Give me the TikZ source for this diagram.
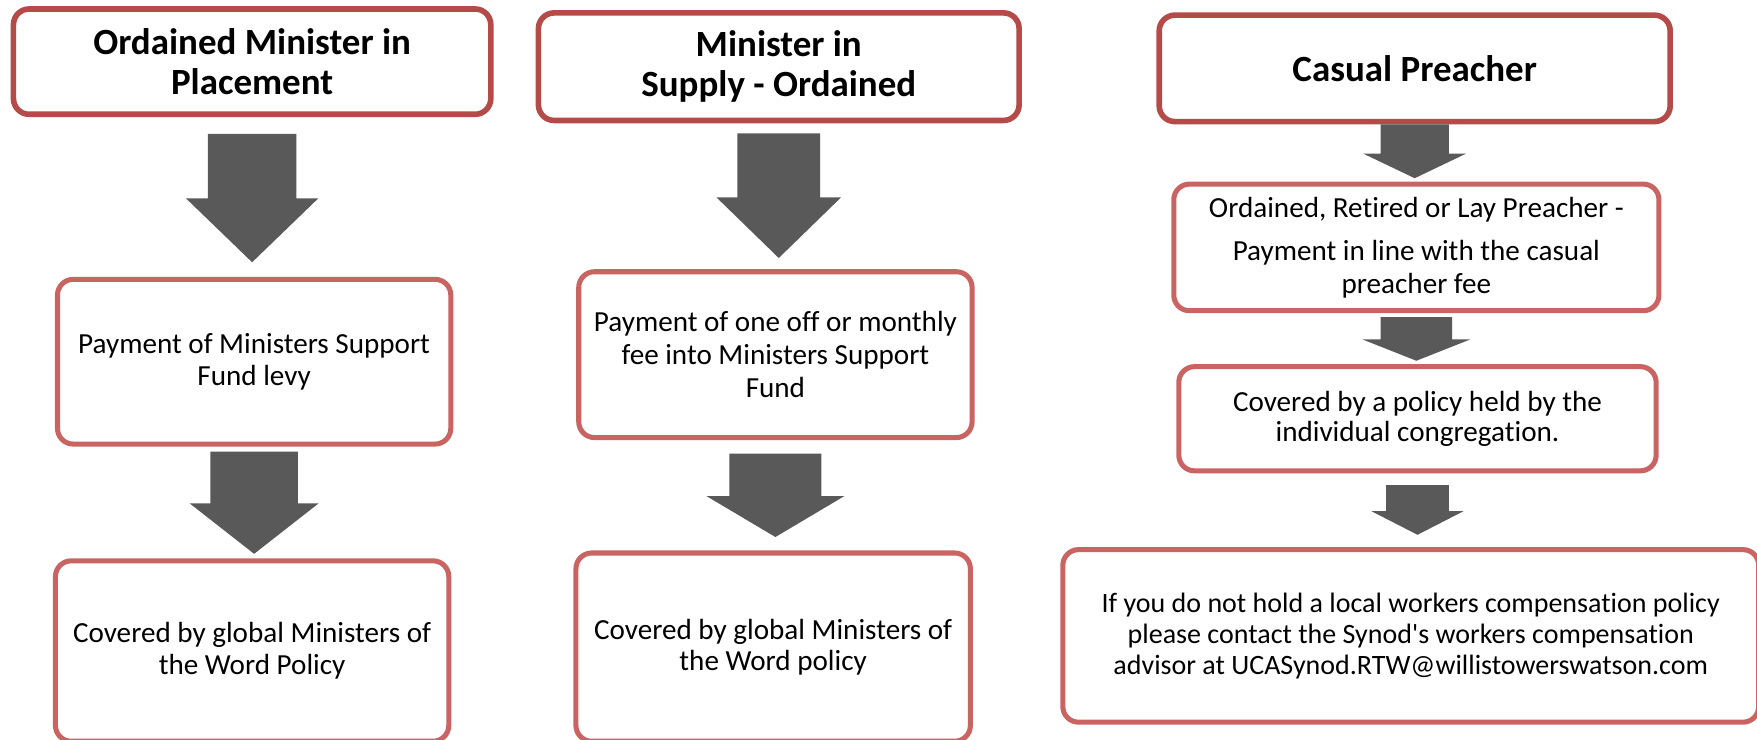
\documentclass[tikz,border=0pt]{standalone}
\usepackage{fontspec}
\setmainfont{Carlito}[Ligatures=NoCommon]
\usetikzlibrary{calc,positioning}

\definecolor{topred}{RGB}{181,75,72}
\definecolor{boxred}{RGB}{201,100,98}
\definecolor{arrgrey}{RGB}{89,89,89}

\begin{document}
\begin{tikzpicture}[
    x=1pt, y=-1pt,
    headbox/.style={draw=topred, line width=5pt, rounded corners=14pt, fill=white, inner sep=0pt, align=center, font=\bfseries\fontsize{33}{36}\selectfont},
    stepbox/.style={draw=boxred, line width=4.5pt, rounded corners=14pt, fill=white, inner sep=0pt, align=center, font=\fontsize{26}{28.5}\selectfont},
    blockarr/.style args={#1/#2/#3}{fill=arrgrey, to path={let \p1=(\tikztostart), \p2=(\tikztotarget) in
        (\x1-#1,\y1) -- (\x1+#1,\y1) -- (\x1+#1,\y2+#3) -- (\x1+#2,\y2+#3) -- (\x1,\y2)
        -- (\x1-#2,\y2+#3) -- (\x1-#1,\y2+#3) -- cycle}}
    ]

    \useasboundingbox (0,0) rectangle (1568,660.4);
    \clip (0,0) rectangle (1568,660.4);

    % ordained minister in placement
    \node[headbox, minimum width=426pt, minimum height=94pt] (op) at (225,55) {Ordained Minister in\\Placement};
    \node[stepbox, minimum width=351pt, minimum height=147pt] (op1) at (226.8,322.8) {Payment of Ministers Support\\Fund levy};
    \node[stepbox, minimum width=351pt, minimum height=161pt] (op2) at (225,581) {Covered by global Ministers of\\the Word Policy};

    % minister in supply
    \node[headbox, minimum width=429pt, minimum height=96pt] (ms) at (695,59.5) {Minister in\\Supply - Ordained};
    \node[stepbox, minimum width=351pt, minimum height=148pt, font=\fontsize{26}{29.5}\selectfont] (ms1) at (692,316.5) {Payment of one off or monthly\\fee into Ministers Support\\Fund};
    \node[stepbox, minimum width=352pt, minimum height=168pt, font=\fontsize{26}{27.5}\selectfont] (ms2) at (690,577.5) {Covered by global Ministers of\\the Word policy};

    % casual preacher
    \node[headbox, minimum width=456pt, minimum height=95pt] (cp) at (1262.5,61) {Casual Preacher};
    \node[stepbox, minimum width=433pt, minimum height=113pt, font=\fontsize{26}{29}\selectfont] (cp1) at (1264,220.8) {Ordained, Retired or Lay Preacher -\\[10pt]Payment in line with the casual\\preacher fee};
    \node[stepbox, minimum width=426pt, minimum height=93pt, font=\fontsize{26}{27}\selectfont] (cp2) at (1265,373.7) {Covered by a policy held by the\\individual congregation.};
    \node[stepbox, minimum width=621pt, minimum height=154pt, font=\fontsize{25}{28}\selectfont] (cp3) at (1259,567.5) {If you do not hold a local workers compensation policy\\please contact the Synod\textquotesingle s workers compensation\\advisor at UCASynod.RTW@willistowerswatson.com};

    \path[blockarr=39.5pt/59pt/57pt] ($(op.south)+(0,15)$) to ($(op1.north)+(0,-13)$);
    \path[blockarr=39pt/57.5pt/45pt] ($(op1.south)+(0,4.5)$) to ($(op2.north)+(0,-4)$);
    \path[blockarr=37pt/55.5pt/54pt] ($(ms.south)+(0,9)$) to ($(ms1.north)+(0,-10)$);
    \path[blockarr=41pt/61.5pt/36.5pt] ($(ms1.south)+(0,12)$) to ($(ms2.north)+(0,-12)$);
    \path[blockarr=30.5pt/46pt/22pt] (cp.south) to ($(cp1.north)+(0,-3)$);
    \path[blockarr=32pt/48pt/19pt] ($(cp1.south)+(0,3.5)$) to ($(cp2.north)+(0,-3)$);
    \path[blockarr=28pt/41pt/21pt] ($(cp2.south)+(0,10.5)$) to ($(cp3.north)+(0,-11)$);

\end{tikzpicture}
\end{document}
